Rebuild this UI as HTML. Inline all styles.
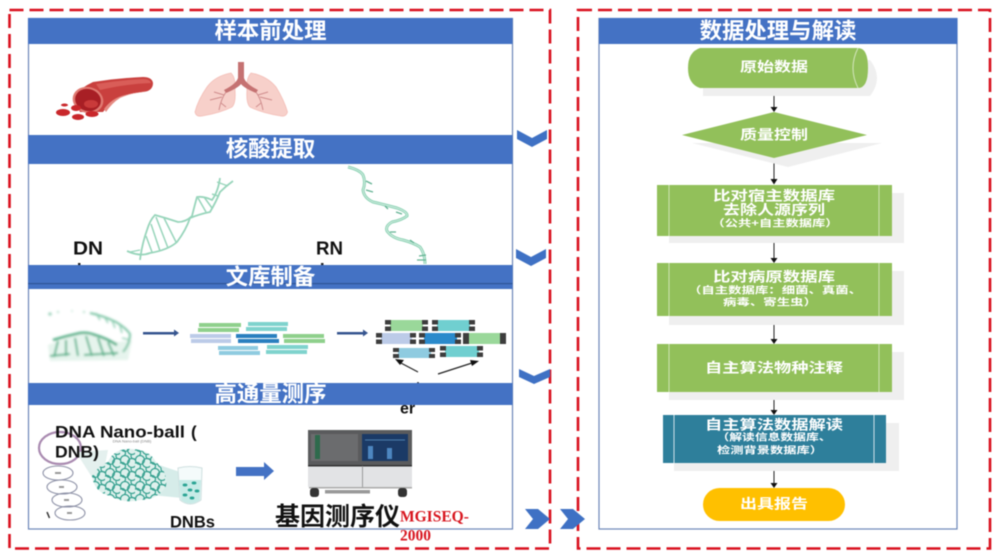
<!DOCTYPE html>
<html><head><meta charset="utf-8"><style>
html,body{margin:0;padding:0;background:#fff;width:1000px;height:560px;overflow:hidden}
svg{display:block;filter:blur(.5px)}
text{font-family:"Liberation Sans","Noto Sans CJK SC",sans-serif;dominant-baseline:central}
.t{fill:#fff;font-weight:700;font-size:22.4px;text-anchor:middle}
.f{fill:#fff;font-weight:700;font-size:13.8px;text-anchor:middle}
.s{fill:#fff;font-weight:700;font-size:9.8px;text-anchor:middle}
.k{fill:#111;font-weight:700}
.d{fill:none;stroke:#d9101e;stroke-width:2.6;stroke-dasharray:14 6}
.c{fill:#3f71c4}
.p{fill:#fff;stroke:#6b86b8;stroke-width:1.2}
.b{fill:#4472c4}
.ar{stroke:#222;stroke-width:1;fill:none}
.ah{fill:#111}
.g{fill:#92c05a}
.sh{fill:#efefef}
.il{stroke:#cfe3b4;stroke-width:1}
</style></head><body>
<svg width="1000" height="560" viewBox="0 0 1000 560" xmlns="http://www.w3.org/2000/svg">
<defs>
<pattern id="tg" width="15" height="13" patternUnits="userSpaceOnUse">
<g fill="none" stroke="#35a08f" stroke-width="1.200">
<circle cx="5" cy="5" r="4.500"/><circle cx="12" cy="8" r="4.500"/><circle cx="2" cy="11" r="3.500"/><circle cx="14" cy="1" r="3"/>
</g>
</pattern>
<filter id="bl" x="-10%" y="-10%" width="120%" height="120%"><feGaussianBlur stdDeviation="1"/></filter>
</defs>
<rect width="1000" height="560" fill="#fff"/>

<!-- left panel -->
<rect class="p" x="28.500" y="18.500" width="484" height="510.500"/>
<!-- vessel -->
<path d="M73 97 Q80 88 93 82 Q118 78 143 77 Q152 77 153 83 Q153 91 143 92 Q130 93 120 97 Q110 102 103 112 L80 112Z" fill="#c9403e"/>
<path d="M96 84 Q120 80 143 79 Q150 79 151 83 Q125 84 100 90Z" fill="#d95d58"/>
<path d="M104 109 Q112 98 125 95 Q135 93 146 91 L143 92 Q128 94 120 98 Q112 103 106 112Z" fill="#e58a82"/>
<ellipse cx="88" cy="100" rx="15.500" ry="13" fill="#e07a72" transform="rotate(15 88 100)"/>
<ellipse cx="88" cy="100" rx="13" ry="11" fill="#a81f25" transform="rotate(15 88 100)"/>
<ellipse cx="91" cy="104" rx="7" ry="4" fill="#c93a3a"/>
<g fill="#c9272b">
<ellipse cx="63" cy="112.500" rx="7" ry="3.500"/><ellipse cx="76" cy="108" rx="5" ry="3"/><ellipse cx="78" cy="117" rx="6" ry="3"/><ellipse cx="92" cy="114" rx="6.500" ry="3"/><ellipse cx="64.500" cy="105" rx="3.500" ry="1.500"/>
</g>
<!-- lungs -->
<path d="M231 73 Q215 76 207 87 Q198 100 195 112 Q196 117 202 116 Q220 113 232 107 Q236 103 235 90 Q236 78 231 73Z" fill="#f7d0ca" stroke="#f4bfb8" stroke-width=".8"/>
<path d="M251 73 Q267 76 276 87 Q284 100 287.500 112 Q286 117 281 116 Q262 113 250 107 Q246 103 247 90 Q246 78 251 73Z" fill="#f7d0ca" stroke="#f4bfb8" stroke-width=".8"/>
<path d="M238 62H244V78 Q246 84 258 90 L256 93 Q244 88 241 84 Q238 88 226 93 L224 90 Q236 84 238 78Z" fill="#c57272"/>
<path d="M226 92 Q221 99 219 110 M222 97 L210 100 M224 95 L214 92 M221 103 L226 107 M256 92 Q261 99 263 110 M260 97 L272 100 M258 95 L268 92 M261 103 L256 107" stroke="#cf8c8c" stroke-width="1" fill="none"/>

<!-- DNA -->
<g fill="none" stroke="#98d5bb" stroke-width="1.800">
<path d="M127 251 Q140 257 150 253 Q168 250 177 242 Q186 230 190 218 Q200 214 210 212 Q216 202 220 192 Q226 186 233 181"/>
<path d="M140 260 Q142 244 147 230 Q150 220 155 215 Q166 218 178 222 Q186 222 192 216 Q195 204 197 197 Q204 196 212 200 Q218 192 220 178"/>
<path stroke-width="1.500" d="M146 236 L152 252 M151 224 L160 251 M156 217 L168 248 M164 218 L176 242 M198 198 L206 212 M204 197 L212 208 M212 194 L218 196"/>
<path stroke-width="1.200" d="M130 252 L140 250 M217 182 L228 186"/>
</g>
<!-- RNA -->
<path d="M348 167 Q360 170 363 175 Q366 182 363 190 Q364 198 373 202 Q386 205 397 208 Q408 212 407 216 Q402 220 392 222 Q385 226 387 231 Q392 238 403 240 Q414 243 420 247 Q425 254 425 264" fill="none" stroke="#8fd3b6" stroke-width="3"/>
<path d="M348 167 Q360 170 363 175 Q366 182 363 190 Q364 198 373 202 Q386 205 397 208 Q408 212 407 216 Q402 220 392 222 Q385 226 387 231 Q392 238 403 240 Q414 243 420 247 Q425 254 425 264" fill="none" stroke="#dff2e9" stroke-width=".8"/>
<path d="M366 181 L372 184 M366 190 L373 192 M385 206 L388 209 M396 212 L402 214 M390 232 L396 232 M410 240 L414 243 M419 256 L426 255 M417 260 L426 260" stroke="#63b293" stroke-width="1.300"/>
<text class="k" x="73" y="248" font-size="18.500" textLength="30" lengthAdjust="spacingAndGlyphs">DN</text>
<text class="k" x="316" y="248" font-size="18.500" textLength="27" lengthAdjust="spacingAndGlyphs">RN</text>
<rect x="78" y="263" width="2.500" height="2" fill="#222"/><rect x="321" y="263" width="2.500" height="2" fill="#222"/>

<!-- library -->
<g filter="url(#bl)">
<path d="M48 345 L80 332 L118 342 L132 340 L128 360 L50 361Z" fill="#e6f4ed"/>
<path d="M53 340 Q66 336 80 333 Q88 332 95 335 Q106 338 117 345" fill="none" stroke="#56b088" stroke-width="2.600"/>
<path d="M58 341 L54 357 M66 340 L66 356 M75 338 L78 356 M86 336 L92 356 M98 338 L104 356 M108 342 L114 356 M50 356 L70 354 M84 355 L118 353" fill="none" stroke="#5cb48d" stroke-width="2"/>
<path d="M90 313 Q104 316 116 322 Q126 328 130 334 Q130 344 123 352" fill="none" stroke="#7cc4a4" stroke-width="2"/>
<path d="M96 313 L100 320 M104 316 L108 323 M112 320 L115 328 M120 326 L122 333 M122 338 L130 340" stroke="#8ccdb1" stroke-width="1.400"/>
<circle cx="50" cy="314" r="1.800" fill="#a6d7c1"/><circle cx="58" cy="312" r="1.200" fill="#bfe3d2"/><circle cx="72" cy="311" r="1" fill="#cde9dc"/><circle cx="84" cy="312" r="1.200" fill="#bfe3d2"/>
</g>
<g fill="#36558f"><rect x="143" y="332" width="33" height="2.500"/><path d="M174 329.500 L179 333 L174 336.500Z"/><rect x="337" y="332" width="28" height="2.500"/><path d="M363 329.500 L368 333 L363 336.500Z"/></g>
<g>
<rect x="199" y="323" width="42" height="4" fill="#8fd08c"/><rect x="198" y="328" width="41" height="4" fill="#8fd08c"/>
<rect x="248" y="322" width="40" height="4" fill="#7fd3cd"/><rect x="246" y="327" width="41" height="4" fill="#7fd3cd"/>
<rect x="190" y="334" width="41" height="4" fill="#bccbe8"/><rect x="191" y="339" width="40" height="4" fill="#bccbe8"/>
<rect x="236" y="334" width="41" height="4" fill="#2a7fbf"/><rect x="238" y="339" width="41" height="4" fill="#2a7fbf"/>
<rect x="283" y="334" width="41" height="4" fill="#8fd08c"/><rect x="284" y="339" width="41" height="4" fill="#8fd08c"/>
<rect x="218" y="346" width="40" height="4" fill="#8fcbe0"/><rect x="219" y="351" width="41" height="4" fill="#8fcbe0"/>
<rect x="267" y="345" width="41" height="4" fill="#7fd3cd"/><rect x="266" y="350" width="41" height="4" fill="#7fd3cd"/>
</g>
<g fill="#3d3d3d">
<rect x="390" y="320" width="33" height="11" fill="#9ad89a"/><rect x="385" y="320" width="6" height="4.500"/><rect x="385" y="326.500" width="6" height="4.500"/><rect x="422" y="320" width="6" height="4.500"/><rect x="422" y="326.500" width="6" height="4.500"/>
<rect x="437" y="320" width="33" height="11" fill="#70cfd0"/><rect x="432" y="320" width="6" height="4.500"/><rect x="432" y="326.500" width="6" height="4.500"/><rect x="469" y="320" width="6" height="4.500"/><rect x="469" y="326.500" width="6" height="4.500"/>
<rect x="381" y="333" width="31" height="11" fill="#bccbe8"/><rect x="376" y="333" width="6" height="4.500"/><rect x="376" y="339.500" width="6" height="4.500"/><rect x="410" y="333" width="6" height="4.500"/><rect x="410" y="339.500" width="6" height="4.500"/>
<rect x="424" y="333" width="33" height="11" fill="#2a8acb"/><rect x="419" y="333" width="6" height="4.500"/><rect x="419" y="339.500" width="6" height="4.500"/><rect x="455" y="333" width="6" height="4.500"/><rect x="455" y="339.500" width="6" height="4.500"/>
<rect x="468" y="333" width="33" height="11" fill="#9ad89a"/><rect x="463" y="333" width="6" height="11"/><rect x="500" y="333" width="6" height="11"/>
<rect x="398" y="348" width="33" height="10" fill="#8fcbe0"/><rect x="393" y="348" width="6" height="4"/><rect x="393" y="354" width="6" height="4"/><rect x="429" y="348" width="6" height="4"/><rect x="429" y="354" width="6" height="4"/>
<rect x="445" y="346" width="34" height="11" fill="#70cfd0"/><rect x="440" y="346" width="6" height="4.500"/><rect x="440" y="352.500" width="6" height="4.500"/><rect x="477" y="346" width="6" height="4.500"/><rect x="477" y="352.500" width="6" height="4.500"/>
</g>
<path d="M418 372 L399 362 M438 374 L472 363" stroke="#222" stroke-width="1.200"/>
<path d="M395 359 L404 360 L400 365Z M479 361 L470 360 L472 366Z" fill="#111"/>
<circle cx="418" cy="383" r="1" fill="#222"/>

<!-- sequencing -->
<g fill="none" stroke="#8f93a8" stroke-width="1.100">
<ellipse cx="58" cy="473" rx="15" ry="7"/><ellipse cx="62" cy="487" rx="15" ry="7"/><ellipse cx="67" cy="500" rx="15" ry="7"/><ellipse cx="70" cy="513" rx="15" ry="7"/>
</g>
<g fill="#999"><rect x="55" y="472" width="6" height="2"/><rect x="59" y="486" width="5" height="2"/><rect x="64" y="499" width="5" height="2"/><rect x="67" y="512" width="5" height="2"/></g>
<path d="M47 512 L49.500 518" stroke="#333" stroke-width="1.500"/>
<ellipse cx="60" cy="448" rx="21" ry="16" fill="none" stroke="#a98ab0" stroke-width="2.200"/>
<path d="M76 452 L108 450 L100 490Z" fill="#e4f0ee"/>
<path d="M150 462 L180 472 L182 498 L152 495Z" fill="#d6ece9"/>
<path id="blob" d="M92 476 Q98 466 108 462 Q114 448 132 449 Q150 450 156 462 Q168 472 166 486 Q158 500 140 500 Q124 504 110 496 Q94 492 92 476Z" fill="#dff1ed"/>
<path d="M92 476 Q98 466 108 462 Q114 448 132 449 Q150 450 156 462 Q168 472 166 486 Q158 500 140 500 Q124 504 110 496 Q94 492 92 476Z" fill="url(#tg)"/>
<text x="132" y="441" font-size="4" fill="#888" text-anchor="middle">DNA Nano-ball (DNB)</text>
<path d="M178 468 Q190 465 202 468 L201 500 Q190 508 180 500Z" fill="#f4fbfb" stroke="#cfe0e0"/>
<path d="M179 480 H201 L200 500 Q190 507 181 500Z" fill="#c7ebe7"/>
<g fill="#2aa494"><ellipse cx="185" cy="485" rx="2.400" ry="1.500"/><ellipse cx="194" cy="483" rx="2.400" ry="1.500"/><ellipse cx="190" cy="490" rx="2.400" ry="1.500"/><ellipse cx="197" cy="491" rx="2.400" ry="1.500"/><ellipse cx="185" cy="495" rx="2.400" ry="1.500"/><ellipse cx="192" cy="498" rx="2.400" ry="1.500"/></g>
<path class="b" d="M236 467 H264 V462 L274 471 L264 480 V476 H236Z"/>
<!-- sequencer -->
<rect x="308" y="430" width="104" height="57" fill="#e2e3e5"/>
<rect x="308" y="430" width="104" height="35" fill="#5a5b5d"/>
<rect x="311" y="434" width="47" height="27" fill="#6b6c6e"/>
<rect x="315" y="435" width="5" height="24" fill="#2e6a4c"/>
<rect x="362" y="434" width="46" height="27" fill="#1b3a66"/>
<rect x="368" y="446" width="5" height="13" fill="#4d86c0"/><rect x="387" y="448" width="5" height="11" fill="#4d86c0"/>
<path d="M365 440 H405" stroke="#4d7fae"/>
<rect x="308" y="465" width="104" height="1.500" fill="#333"/>
<rect x="362" y="466" width="1" height="21" fill="#999"/>
<rect x="309" y="487" width="103" height="1.500" fill="#aaa"/>
<rect x="310" y="488" width="9" height="9" rx="3" fill="#333"/><rect x="398" y="488" width="9" height="9" rx="3" fill="#333"/>
<rect x="325" y="490" width="45" height="3.500" fill="#999"/>

<text x="55" y="432" font-size="17" class="k" textLength="130" lengthAdjust="spacingAndGlyphs">DNA Nano-ball</text>
<text x="191" y="432" font-size="17" class="k">(</text>
<text x="55" y="452" font-size="17" class="k" textLength="44" lengthAdjust="spacingAndGlyphs">DNB)</text>
<text x="170" y="522" font-size="17" class="k" textLength="45" lengthAdjust="spacingAndGlyphs">DNBs</text>
<text x="275" y="517" font-size="25" class="k" textLength="125">基因测序仪</text>
<text x="400" y="517" font-size="15.500" font-weight="700" fill="#d8161f" style="font-family:'Liberation Serif',serif">MGISEQ-</text>
<text x="400" y="536" font-size="15.500" font-weight="700" fill="#d8161f" style="font-family:'Liberation Serif',serif">2000</text>

<!-- bands -->
<rect class="b" x="28" y="18" width="484.500" height="26"/>
<text class="t" x="270.500" y="31">样本前处理</text>
<rect class="b" x="28" y="135" width="484.500" height="29"/>
<text class="t" x="270.500" y="149">核酸提取</text>
<rect class="b" x="28" y="265" width="484.500" height="24"/>
<rect x="28" y="283" width="484.500" height="1.200" fill="#2f5597"/>
<text class="t" x="270.500" y="277">文库制备</text>
<rect class="b" x="28" y="383" width="484.500" height="22"/>
<text class="t" x="270.500" y="394">高通量测序</text>
<text class="k" x="400" y="409" font-size="16">er</text>

<!-- right panel -->
<rect class="p" x="599" y="18.500" width="358" height="510.500"/>
<rect class="b" x="599" y="18" width="358.500" height="26"/>
<text class="t" x="778" y="31">数据处理与解读</text>

<!-- connectors -->
<g class="ar"><path d="M774 88V108M774 158V180M774 236V258M774 316V340M774 392V411M774 463V484"/></g>
<g class="ah"><path d="M770.500 107 H777.500 L774 112Z M770.500 179 H777.500 L774 184.500Z M770.500 258 H777.500 L774 263Z M770.500 339 H777.500 L774 344Z M770.500 410 H777.500 L774 415Z M770.500 483 H777.500 L774 488Z"/></g>

<!-- flow -->
<path class="sh" d="M703 60 H870 Q884 78 870 96 H703Z"/>
<path class="g" d="M700 48 H858 Q868 48 868 68 Q868 88 858 88 H700 Q688 84 688 68 Q688 52 700 48Z"/>
<path d="M858 48 Q848 68 858 88" fill="none" stroke="#d4e6bd" stroke-width="1"/>
<text class="f" x="774" y="67" textLength="68" lengthAdjust="spacingAndGlyphs">原始数据</text>
<path class="sh" d="M692 143 L882 143 L788 167Z"/>
<path class="g" d="M682 135 L774 112 L867 135 L774 158Z"/>
<text class="f" x="774" y="135" textLength="68" lengthAdjust="spacingAndGlyphs">质量控制</text>

<rect class="sh" x="669" y="193" width="235" height="50"/>
<rect class="g" x="657" y="185" width="235" height="51"/>
<path class="il" d="M669 185V236M879 185V236"/>
<text class="f" x="774" y="196" textLength="122" lengthAdjust="spacingAndGlyphs">比对宿主数据库</text>
<text class="f" x="774" y="210" textLength="102" lengthAdjust="spacingAndGlyphs">去除人源序列</text>
<text class="s" x="775" y="224" textLength="127" lengthAdjust="spacingAndGlyphs">（公共+自主数据库）</text>

<rect class="sh" x="669" y="271" width="235" height="54"/>
<rect class="g" x="657" y="263" width="235" height="53"/>
<path class="il" d="M669 263V316M879 263V316"/>
<text class="f" x="774" y="277" textLength="122" lengthAdjust="spacingAndGlyphs">比对病原数据库</text>
<text class="s" x="775" y="291" textLength="174" lengthAdjust="spacingAndGlyphs">（自主数据库：细菌、真菌、</text>
<text class="s" x="770" y="303" textLength="94" lengthAdjust="spacingAndGlyphs">病毒、寄生虫）</text>

<rect class="sh" x="669" y="352" width="235" height="48"/>
<rect class="g" x="657" y="344" width="235" height="48"/>
<path class="il" d="M669 344V392M879 344V392"/>
<text class="f" x="774" y="368" textLength="138" lengthAdjust="spacingAndGlyphs">自主算法物种注释</text>

<rect class="sh" x="674" y="423" width="225" height="48"/>
<rect x="663" y="415" width="223" height="48" fill="#2e7f9b"/>
<path d="M674 415V463M874 415V463" stroke="#cfe3ea" stroke-width="1"/>
<text class="f" x="774" y="425" textLength="138" lengthAdjust="spacingAndGlyphs">自主算法数据解读</text>
<text class="s" x="774" y="438" textLength="115" lengthAdjust="spacingAndGlyphs">（解读信息数据库、</text>
<text class="s" x="770" y="451" textLength="106" lengthAdjust="spacingAndGlyphs">检测背景数据库）</text>

<rect x="703" y="488" width="142" height="33" rx="16.500" fill="#ffc000"/>
<text class="f" x="774" y="504" textLength="68" lengthAdjust="spacingAndGlyphs">出具报告</text>

<!-- frames -->
<rect class="d" x="9.500" y="10" width="540.500" height="538.500"/>
<rect class="d" x="578" y="10" width="412" height="538.500"/>

<!-- chevrons -->
<path class="c" d="M517 130 L532 138 L547 130 V139 L532 147 L517 139Z"/>
<path class="c" d="M516 249 L531 257 L546 249 V258 L531 266 L516 258Z"/>
<path class="c" d="M519 369 L534 376 L550 369 V377 L534 384 L519 377Z"/>
<path class="c" d="M525 509 H538 L550 519 L538 529 H525 L533 519Z"/>
<path class="c" d="M560 509 H573 L585 519 L573 529 H560 L568 519Z"/>
</svg>
</body></html>
